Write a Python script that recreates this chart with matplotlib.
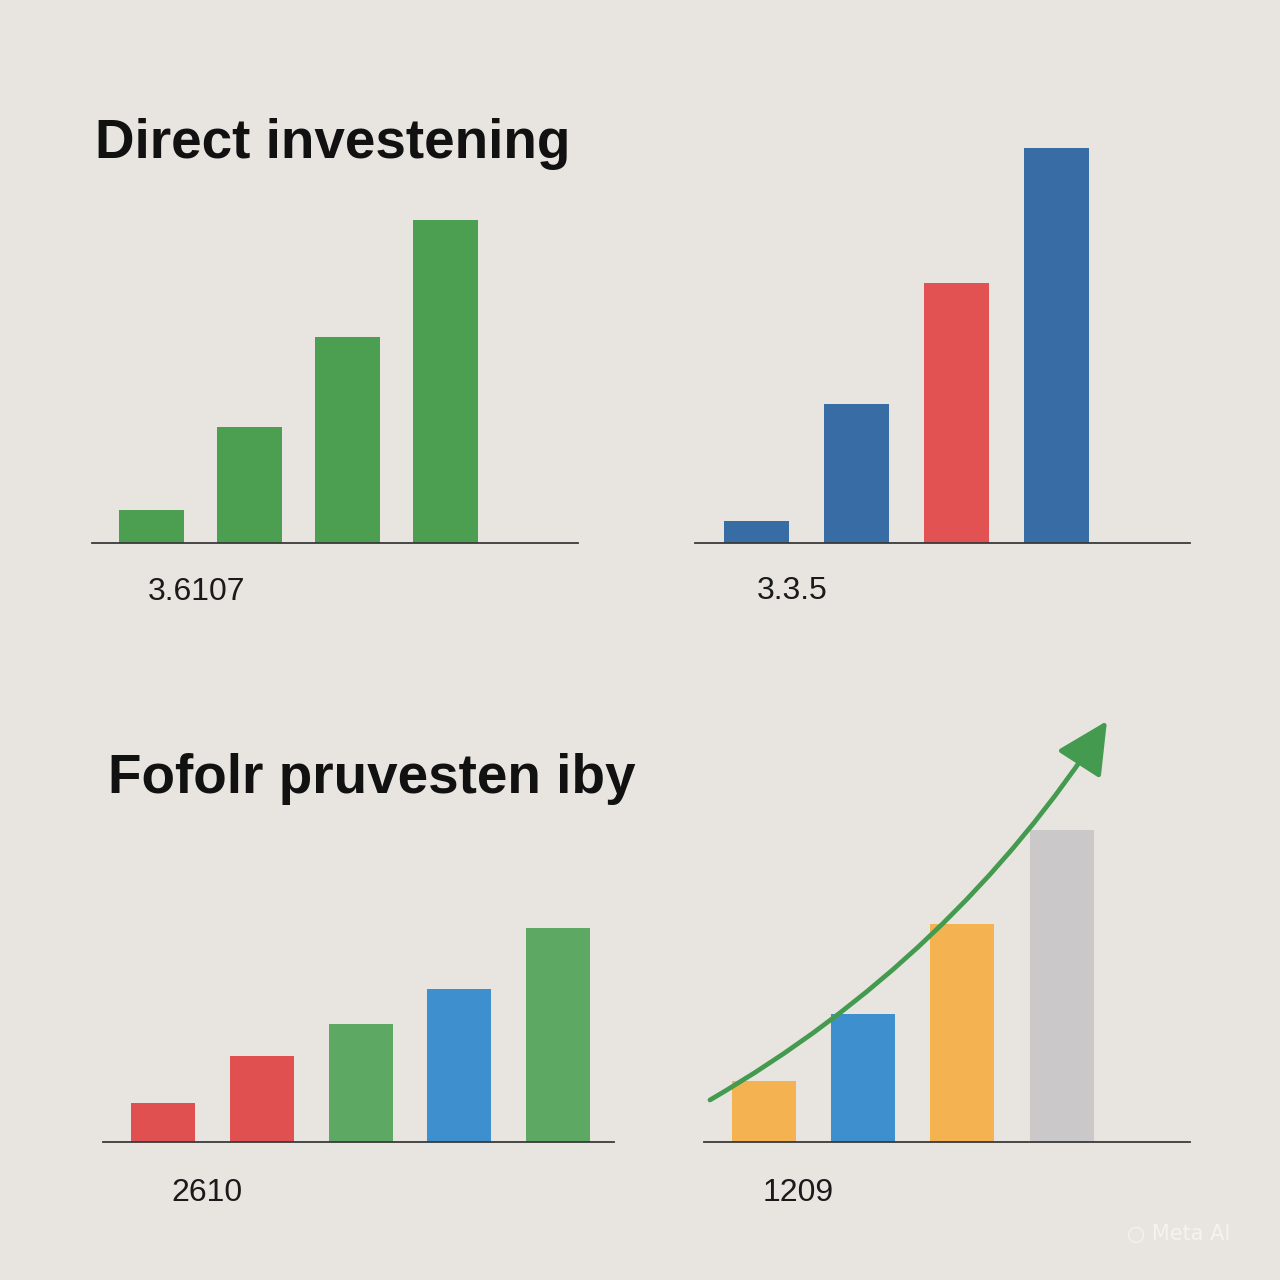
import matplotlib
matplotlib.use("Agg")
import matplotlib.pyplot as plt

# bar heights (arbitrary units)
tl_vals = [3.3, 11.6, 20.6, 32.3]
tr_vals = [2.2, 13.9, 26.0, 39.5]
bl_vals = [3.9, 8.6, 11.8, 15.3, 21.4]
br_vals = [6.1, 12.8, 21.8, 31.2]

tl_colors = ["#4c9f50", "#4c9f50", "#4c9f50", "#4c9f50"]
tr_colors = ["#376ca5", "#376ca5", "#e25252", "#376ca5"]
bl_colors = ["#e05050", "#e05050", "#5da862", "#3e8fcd", "#5da862"]
br_colors = ["#f4b350", "#3e8fcd", "#f4b350", "#cac8c9"]

titles = ["Direct investening", "Fofolr pruvesten iby"]
labels = ["3.6107", "3.3.5", "2610", "1209"]

# trend arrow in the bottom-right panel (start, end)
trend_x = [-0.545, 3.457]
trend_y = [4.2, 42.1]

BG = "#e8e5e1"
W = H = 1280

fig = plt.figure(figsize=(12.8, 12.8), dpi=100, facecolor=BG)


def px_axes(left, right, base, height):
    return fig.add_axes([left / W, (H - base) / H, (right - left) / W, height / H])


def bar_panel(ax, vals, colors, xlim, width, ytop):
    x = list(range(len(vals)))
    ax.bar(x, vals, width=width, color=colors, zorder=2)
    ax.set_xlim(*xlim)
    ax.set_ylim(0, ytop)
    ax.set_facecolor("none")
    for s in ["top", "right", "left"]:
        ax.spines[s].set_visible(False)
    ax.spines["bottom"].set_color("#3a3a3a")
    ax.spines["bottom"].set_linewidth(1.3)
    ax.set_xticks([])
    ax.set_yticks([])


ax1 = px_axes(92, 578, 543, 420)
bar_panel(ax1, tl_vals, tl_colors, (-0.607, 4.352), 0.663, 42)

ax2 = px_axes(695, 1190, 543, 420)
bar_panel(ax2, tr_vals, tr_colors, (-0.615, 4.335), 0.65, 42)

ax3 = px_axes(103, 614, 1142, 440)
bar_panel(ax3, bl_vals, bl_colors, (-0.608, 4.567), 0.648, 44)

ax4 = px_axes(704, 1190, 1142, 440)
bar_panel(ax4, br_vals, br_colors, (-0.605, 4.294), 0.645, 44)

ax4.annotate("", xy=(trend_x[1], trend_y[1]), xytext=(trend_x[0], trend_y[0]),
             arrowprops=dict(arrowstyle="-|>,head_length=0.8,head_width=0.4",
                             mutation_scale=40, color="#449a4e", lw=3.4,
                             connectionstyle="arc3,rad=0.12",
                             shrinkA=0, shrinkB=0),
             annotation_clip=False, zorder=3)

tfont = dict(family="Liberation Sans", weight="bold", size=39.5, color="#111111", va="baseline")
fig.text(95 / W, 1 - 158 / H, titles[0], **tfont)
fig.text(108 / W, 1 - 793 / H, titles[1], **tfont)

lfont = dict(family="Liberation Sans", size=23, color="#1a1a1a", va="baseline")
fig.text(148 / W, 1 - 600 / H, labels[0], **lfont)
fig.text(757 / W, 1 - 599 / H, labels[1], **lfont)
fig.text(171 / W, 1 - 1201 / H, labels[2], **lfont)
fig.text(763 / W, 1 - 1201 / H, labels[3], **lfont)

# faint watermark
fig.text(1127 / W, 1 - 1240 / H, "\u25cb Meta AI", family="DejaVu Sans", size=15,
         color="#f5f3f0", va="baseline")

fig.savefig("out.png", dpi=100, facecolor=BG)
